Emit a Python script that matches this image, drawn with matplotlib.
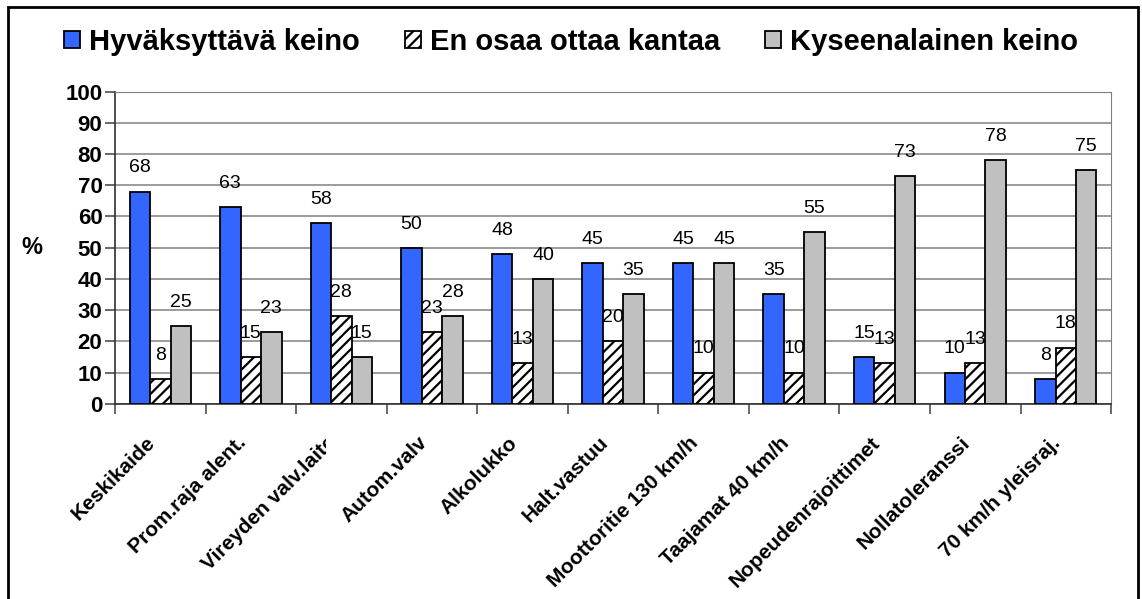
import matplotlib
matplotlib.use("Agg")
import matplotlib.pyplot as plt
import matplotlib.transforms as mtransforms
from matplotlib.patches import Rectangle, Patch
import numpy as np

plt.rcParams['font.family'] = ['Liberation Sans', 'DejaVu Sans']
plt.rcParams['hatch.linewidth'] = 1.6

categories = ['Keskikaide', 'Prom.raja alent.', 'Vireyden valv.laite', 'Autom.valv',
              'Alkolukko', 'Halt.vastuu', 'Moottoritie 130 km/h', 'Taajamat 40 km/h',
              'Nopeudenrajoittimet', 'Nollatoleranssi', '70 km/h yleisraj.']
hyvaksyttava = [68, 63, 58, 50, 48, 45, 45, 35, 15, 10, 8]
en_osaa = [8, 15, 28, 23, 13, 20, 10, 10, 13, 13, 18]
kyseenalainen = [25, 23, 15, 28, 40, 35, 45, 55, 73, 78, 75]
series_names = ['Hyväksyttävä keino', 'En osaa ottaa kantaa', 'Kyseenalainen keino']

fig = plt.figure(figsize=(11.42, 5.99), dpi=100)
ax = fig.add_axes([0.1007, 0.326, 0.8722, 0.521])

x = np.arange(len(categories))
w = 0.226
b1 = ax.bar(x - w, hyvaksyttava, w, color='#3366FF', edgecolor='black', linewidth=1.3, zorder=3)
b2 = ax.bar(x, en_osaa, w, color='white', edgecolor='black', hatch='///', linewidth=1.3, zorder=3)
b3 = ax.bar(x + w, kyseenalainen, w, color='#C0C0C0', edgecolor='black', linewidth=1.3, zorder=3)

# value labels above each bar
for bars, vals in ((b1, hyvaksyttava), (b2, en_osaa), (b3, kyseenalainen)):
    for r, v in zip(bars, vals):
        ax.annotate(str(v), (r.get_x() + r.get_width() / 2, v), xytext=(0, 17),
                    textcoords='offset points', ha='center', va='center',
                    fontsize=14, zorder=4)

ax.set_xlim(-0.5, len(categories) - 0.5)
ax.set_ylim(0, 100)
ax.set_yticks(range(0, 101, 10))
ax.yaxis.grid(True, color='#808080', linewidth=1.1, zorder=0)
ax.tick_params(axis='y', labelsize=16, length=7, width=1.1, pad=2, color='#404040')
for lbl in ax.get_yticklabels():
    lbl.set_fontweight('bold')

ax.set_xticks(x)
ax.set_xticks(np.arange(-0.5, len(categories)), minor=True)
ax.tick_params(axis='x', which='major', length=0, pad=26)
ax.tick_params(axis='x', which='minor', length=7, width=1.1, color='#404040')
ax.set_xticklabels(categories, rotation=45, ha='right', va='center',
                   rotation_mode='anchor', fontsize=15, fontweight='bold')
shift = mtransforms.ScaledTranslation(-8 / 100, 0, fig.dpi_scale_trans)
for lbl in ax.get_xticklabels():
    lbl.set_transform(lbl.get_transform() + shift)

# the third label is cut off on its right side
clip = mtransforms.TransformedBbox(mtransforms.Bbox([[0, 0], [326 / 1142, 1]]), fig.transFigure)
third = ax.get_xticklabels()[2]
third.set_clip_box(clip)
third.set_clip_on(True)

for side in ('top', 'right'):
    ax.spines[side].set_color('#808080')
for side in ('left', 'bottom'):
    ax.spines[side].set_color('#303030')
    ax.spines[side].set_linewidth(1.2)

ax.text(-0.083, 0.5, '%', transform=ax.transAxes, fontsize=17, fontweight='bold',
        ha='center', va='center')

handles = [Patch(facecolor='#3366FF', edgecolor='black', linewidth=1.3),
           Patch(facecolor='white', edgecolor='black', hatch='///', linewidth=1.3),
           Patch(facecolor='#C0C0C0', edgecolor='black', linewidth=1.3)]
fig.legend(handles, series_names, loc='center', bbox_to_anchor=(0.5, 0.93), ncol=3,
           frameon=False, prop={'size': 21, 'weight': 'bold'},
           handlelength=0.55, handleheight=0.55, handletextpad=0.3, columnspacing=1.55)

fig.patches.append(Rectangle((8 / 1142, -0.02), 1130 / 1142, 1.02 - 7 / 599,
                             transform=fig.transFigure, fill=False,
                             edgecolor='black', linewidth=2))

fig.savefig('out.png', dpi=100)
